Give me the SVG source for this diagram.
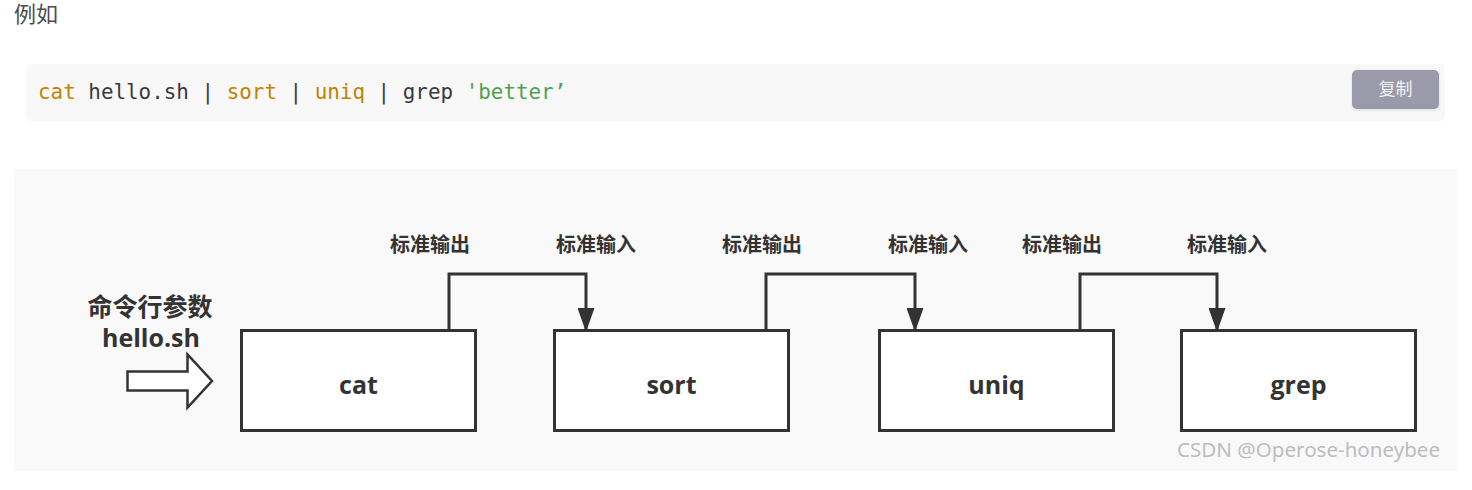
<svg xmlns="http://www.w3.org/2000/svg" width="1472" height="490" viewBox="0 0 1472 490">
<defs>
<style>
.box{fill:#ffffff;stroke:#333333;stroke-width:3}
.conn{fill:none;stroke:#333333;stroke-width:3;stroke-linejoin:miter}
.lbl{font-family:"Noto Sans CJK SC","Noto Sans",sans-serif;font-weight:700;font-size:20px;fill:#333333;text-anchor:middle}
.name{font-family:"Open Sans","Noto Sans",sans-serif;font-weight:700;font-size:25px;fill:#333333;text-anchor:middle}
.code{font-family:"DejaVu Sans Mono","Liberation Mono",monospace;font-size:20.9px}
</style>
<marker id="ah" viewBox="0 0 24 17" refX="23" refY="8.5" markerWidth="24" markerHeight="17" markerUnits="userSpaceOnUse" orient="auto">
<path d="M0,0 L24,8.5 L0,17 Z" fill="#333333"/>
</marker>
<filter id="sh" x="-10%" y="-20%" width="120%" height="150%">
<feDropShadow dx="0" dy="1" stdDeviation="1.5" flood-color="#000" flood-opacity="0.12"/>
</filter>
</defs>
<rect x="0" y="0" width="1472" height="490" fill="#ffffff"/>
<text x="14" y="22" font-family="Noto Sans CJK SC, Noto Sans, sans-serif" font-size="22" fill="#4d4d4d">例如</text>
<g id="codeblock">
<rect x="26" y="64" width="1419" height="57" rx="5" fill="#f8f8f8"/>
<text x="38" y="99" class="code"><tspan fill="#c18401">cat</tspan><tspan fill="#383a42"> hello.sh | </tspan><tspan fill="#c18401">sort</tspan><tspan fill="#383a42"> | </tspan><tspan fill="#c18401">uniq</tspan><tspan fill="#383a42"> | grep </tspan><tspan fill="#50a14f">'better’</tspan></text>
<rect x="1352" y="70" width="87" height="39" rx="5" fill="#9b9aab" filter="url(#sh)"/>
<text x="1395.5" y="95" text-anchor="middle" font-family="Noto Sans CJK SC, Noto Sans, sans-serif" font-size="17" fill="#f4f4f6">复制</text>
</g>
<rect x="14" y="169" width="1443" height="302" fill="#f9f9f9"/>
<g id="input">
<text x="150" y="316" class="lbl" style="font-size:25px">命令行参数</text>
<text x="151" y="347" class="name">hello.sh</text>
<path d="M127.5,371.5 L187.5,371.5 L187.5,354.5 L212,381 L187.5,407.5 L187.5,390.5 L127.5,390.5 Z" fill="#ffffff" stroke="#333333" stroke-width="2.5" stroke-linejoin="miter"/>
</g>
<g id="cat">
<rect class="box" x="241.5" y="330.5" width="234" height="100"/>
<text class="name" x="358.5" y="394">cat</text>
</g>
<g id="sort">
<rect class="box" x="554.5" y="330.5" width="234" height="100"/>
<text class="name" x="671.5" y="394">sort</text>
</g>
<g id="uniq">
<rect class="box" x="879.5" y="330.5" width="234" height="100"/>
<text class="name" x="996.5" y="394">uniq</text>
</g>
<g id="grep">
<rect class="box" x="1181.5" y="330.5" width="234" height="100"/>
<text class="name" x="1298.5" y="394">grep</text>
</g>
<g id="connectors">
<path class="conn" d="M449,329 L449,274 L586,274 L586,331" marker-end="url(#ah)"/>
<path class="conn" d="M766,329 L766,274 L915,274 L915,331" marker-end="url(#ah)"/>
<path class="conn" d="M1080,329 L1080,274 L1217,274 L1217,331" marker-end="url(#ah)"/>
<text class="lbl" x="430" y="252">标准输出</text>
<text class="lbl" x="596" y="252">标准输入</text>
<text class="lbl" x="762" y="252">标准输出</text>
<text class="lbl" x="928" y="252">标准输入</text>
<text class="lbl" x="1062" y="252">标准输出</text>
<text class="lbl" x="1227" y="252">标准输入</text>
</g>
<text x="1177" y="457" font-family="Noto Sans, Open Sans, sans-serif" font-size="20.5" fill="#bdbdbd" textLength="263" lengthAdjust="spacingAndGlyphs">CSDN @Operose-honeybee</text>
</svg>
